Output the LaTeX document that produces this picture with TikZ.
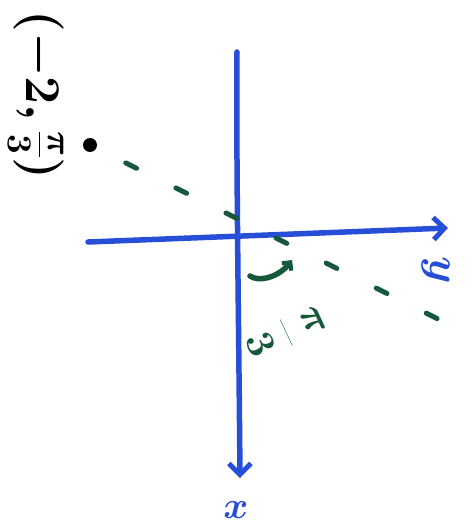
\documentclass[tikz,border=0pt]{standalone}
\usepackage{fix-cm}
\usetikzlibrary{arrows.meta}
\definecolor{penblue}{RGB}{38,78,215}
\definecolor{pengreen}{RGB}{22,88,58}
\tikzset{
  axis/.style={draw=penblue, line width=5.5pt, line cap=round, line join=round,
    -{Straight Barb[length=11pt,width=22pt,line width=5pt]}},
  ray/.style={draw=pengreen, line width=5pt, line cap=round, dash pattern=on 12pt off 44pt},
  hand/.style={font=\fontsize{#1}{#1}\selectfont\boldmath, inner sep=0pt},
}
\begin{document}
\begin{tikzpicture}[x=1pt,y=-1pt]
\useasboundingbox (0,0) rectangle (473,527);
% axes
\coordinate (ytop) at (237,52);
\coordinate (ybot) at (240,478);
\coordinate (xl) at (88,242);
\coordinate (xr) at (448,228);
\draw[axis] (ytop) .. controls (236,150) and (239,350) .. (ybot);
\draw[axis] (xl) -- (xr);
% point and dashed ray
\coordinate (p) at (90,145);
\coordinate (q) at (440,320);
\fill (p) circle (7pt);
\draw[ray, dash phase=16pt] (p) -- (q);
% angle arc
\coordinate (a0) at (250,276);
\coordinate (a1) at (292,260);
\draw[draw=pengreen, line width=5.5pt, line cap=round,
  -{Straight Barb[length=6pt,width=12pt,line width=4pt]}]
  (a0) .. controls (258,282) and (278,278) .. (a1);
% labels
\node[hand=50, rotate=-90] (lbl) at (36,95) {$(-2,\frac{\pi}{3})$};
\node[hand=40, text=pengreen, rotate=-65] (ang) at (285,333) {$\displaystyle\frac{\pi}{3}$};
\node[hand=44, text=penblue, rotate=-90] (ylab) at (436,270) {$y$};
\node[hand=38, text=penblue] (xlab) at (236,510) {$x$};
\end{tikzpicture}
\end{document}
